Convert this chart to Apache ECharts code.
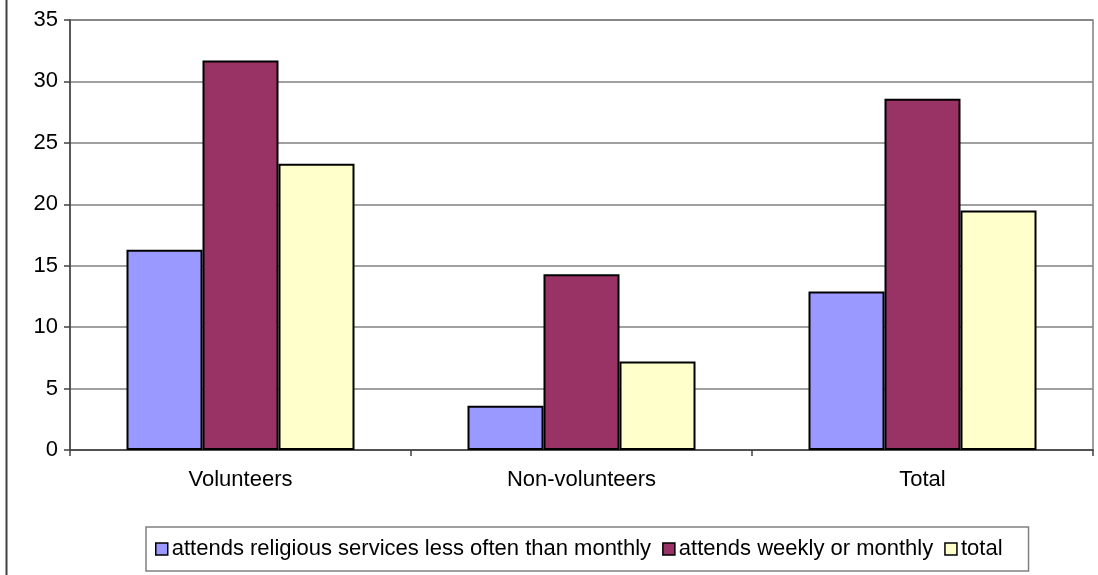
<!DOCTYPE html>
<html>
<head>
<meta charset="utf-8">
<style>
  html, body { margin: 0; padding: 0; background: #fff; }
  #chart { width: 1098px; height: 575px; }
</style>
<script src="https://cdn.jsdelivr.net/npm/echarts@6/dist/echarts.min.js"></script>
</head>
<body>
<div id="chart"></div>
<script>
// Groups along the x axis
const categories = ['Volunteers', 'Non-volunteers', 'Total'];

// Series names and values (percent)
const seriesNames = [
  'attends religious services less often than monthly',
  'attends weekly or monthly',
  'total'
];
const lessThanMonthly = [16.3, 3.6, 12.9];
const weeklyOrMonthly = [31.7, 14.3, 28.6];
const totalValues = [23.3, 7.2, 19.5];

// Y axis tick values
const yTicks = [0, 5, 10, 15, 20, 25, 30, 35];

const colors = ['#9999FF', '#993366', '#FFFFCC'];
const font = 'Liberation Sans, Arial, sans-serif';

const chart = echarts.init(document.getElementById('chart'), null, { renderer: 'canvas' });

const seriesData = [lessThanMonthly, weeklyOrMonthly, totalValues];

chart.setOption({
  animation: false,
  backgroundColor: '#ffffff',
  textStyle: { fontFamily: font },
  grid: {
    left: 70, right: 5, top: 20, bottom: 125,
    show: true, borderColor: '#808080', borderWidth: 1.5, backgroundColor: 'transparent'
  },
  legend: {
    data: seriesNames,
    left: 146, top: 527,
    padding: [11, 26, 11, 9],
    itemGap: 11,
    itemWidth: 12, itemHeight: 12,
    backgroundColor: '#ffffff',
    borderColor: '#808080', borderWidth: 1.5,
    textStyle: { fontFamily: font, fontSize: 22, color: '#000', padding: [0, 0, 0, -1] },
    icon: 'rect',
    itemStyle: { borderColor: '#000', borderWidth: 1.5 }
  },
  xAxis: {
    type: 'category',
    data: categories,
    axisLine: { lineStyle: { color: '#404040', width: 1.5 } },
    axisTick: { show: true, length: 6, lineStyle: { color: '#404040', width: 1.5 } },
    axisLabel: { color: '#000', fontSize: 22, fontFamily: font, margin: 19 },
    splitLine: { show: false }
  },
  yAxis: {
    type: 'value',
    min: yTicks[0], max: yTicks[yTicks.length - 1], interval: 5,
    axisLine: { show: true, lineStyle: { color: '#404040', width: 1.5 } },
    axisTick: { show: true, length: 6, lineStyle: { color: '#404040', width: 1.5 } },
    axisLabel: { color: '#000', fontSize: 22, fontFamily: font, margin: 12 },
    splitLine: { show: true, lineStyle: { color: '#808080', width: 1.5 } }
  },
  series: seriesNames.map((name, i) => ({
    name: name,
    type: 'bar',
    data: seriesData[i],
    barWidth: 76,
    barGap: '0%',
    itemStyle: { color: colors[i], borderColor: '#000', borderWidth: 2 }
  })),
  graphic: [{
    type: 'line',
    shape: { x1: 6.5, y1: 0, x2: 6.5, y2: 575 },
    style: { stroke: '#404040', lineWidth: 2 },
    silent: true
  }]
});
</script>
</body>
</html>
